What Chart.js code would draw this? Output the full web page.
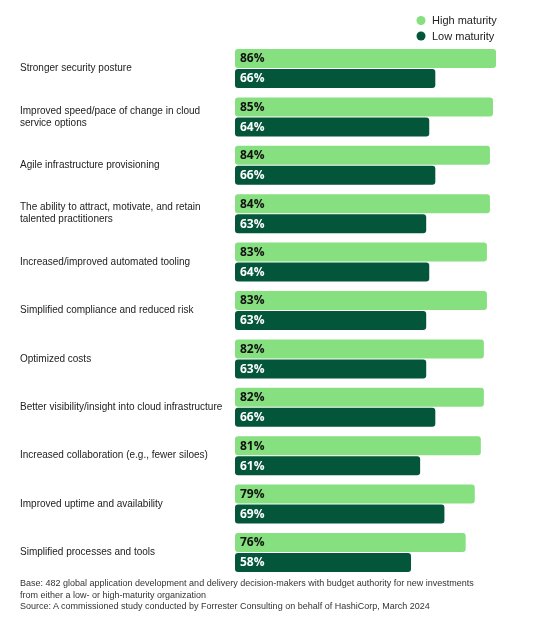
<!DOCTYPE html>
<html>
<head>
<meta charset="utf-8">
<style>
    body{
        margin:0;
        background:#fff;
    }
    #wrap{
        position:relative;
        width:540px;
        height:622px;
    }
    #note{
        position:absolute;
        left:20px;
        top:578px;
        width:500px;
        font-family:"Liberation Sans", Arial, sans-serif;
        font-size:9px;
        line-height:11.7px;
        color:#333;
    }
</style>
</head>
<body>
<div id="wrap">
    <canvas id="myChart"></canvas>
    <div id="note">Base: 482 global application development and delivery decision-makers with budget authority for new investments<br>from either a low- or high-maturity organization<br>Source: A commissioned study conducted by Forrester Consulting on behalf of HashiCorp, March 2024</div>
</div>
<script src="https://cdn.jsdelivr.net/npm/chart.js@4/dist/chart.umd.min.js"></script>
<script>
var categories = [
    'Stronger security posture',
    ['Improved speed/pace of change in cloud', 'service options'],
    'Agile infrastructure provisioning',
    ['The ability to attract, motivate, and retain', 'talented practitioners'],
    'Increased/improved automated tooling',
    'Simplified compliance and reduced risk',
    'Optimized costs',
    'Better visibility/insight into cloud infrastructure',
    'Increased collaboration (e.g., fewer siloes)',
    'Improved uptime and availability',
    'Simplified processes and tools'
];
var high_maturity = [86, 85, 84, 84, 83, 83, 82, 82, 81, 79, 76];
var low_maturity = [66, 64, 66, 63, 64, 63, 63, 66, 61, 69, 58];

var c_high = '#86e07f', c_low = '#03563a';

// percent labels written inside the left end of each bar
var valueLabels = {
    id: 'valueLabels',
    afterDatasetsDraw: function(chart){
        var ctx = chart.ctx;
        ctx.save();
        ctx.font = 'bold 12px "Open Sans", sans-serif';
        ctx.textAlign = 'left';
        ctx.textBaseline = 'middle';
        chart.data.datasets.forEach(function(ds, di){
            ctx.fillStyle = di === 0 ? '#111' : '#fff';
            chart.getDatasetMeta(di).data.forEach(function(bar, i){
                ctx.fillText(ds.data[i] + '%', bar.base + 5, bar.y + 0.5);
            });
        });
        ctx.restore();
    }
};

// stacked legend at top right
var stackLegend = {
    id: 'stackLegend',
    afterDraw: function(chart){
        var ctx = chart.ctx;
        ctx.save();
        ctx.font = '11px "Liberation Sans", Arial, sans-serif';
        ctx.textBaseline = 'middle';
        chart.data.datasets.forEach(function(ds, di){
            var y = 20.5 + di * 15.5;
            ctx.fillStyle = ds.backgroundColor;
            ctx.beginPath();
            ctx.arc(421, y, 4.5, 0, Math.PI * 2);
            ctx.fill();
            ctx.fillStyle = '#222';
            ctx.fillText(ds.label, 432, y + 0.5);
        });
        ctx.restore();
    }
};

var myChart = new Chart(document.getElementById('myChart'), {
    type: 'bar',
    data: {
        labels: categories,
        datasets: [{
            label: 'High maturity',
            data: high_maturity,
            backgroundColor: c_high
        }, {
            label: 'Low maturity',
            data: low_maturity,
            backgroundColor: c_low
        }]
    },
    options: {
        indexAxis: 'y',
        responsive: true,
        maintainAspectRatio: false,
        animation: false,
        categoryPercentage: 0.826,
        barPercentage: 0.95,
        borderRadius: 3,
        borderSkipped: false,
        layout: {
            padding: {left: 20, right: 1.5, top: 44.3, bottom: 45.3}
        },
        plugins: {
            legend: {display: false},
            tooltip: {enabled: false}
        },
        scales: {
            x: {
                display: false,
                min: 0,
                max: 100
            },
            y: {
                afterFit: function(scale){ scale.width = 215; },
                grid: {display: false},
                border: {display: false},
                ticks: {
                    crossAlign: 'far',
                    padding: 0,
                    color: '#222',
                    font: {family: '"Liberation Sans", Arial, sans-serif', size: 10, lineHeight: 1.2}
                }
            }
        }
    },
    plugins: [valueLabels, stackLegend]
});
</script>
</body>
</html>
